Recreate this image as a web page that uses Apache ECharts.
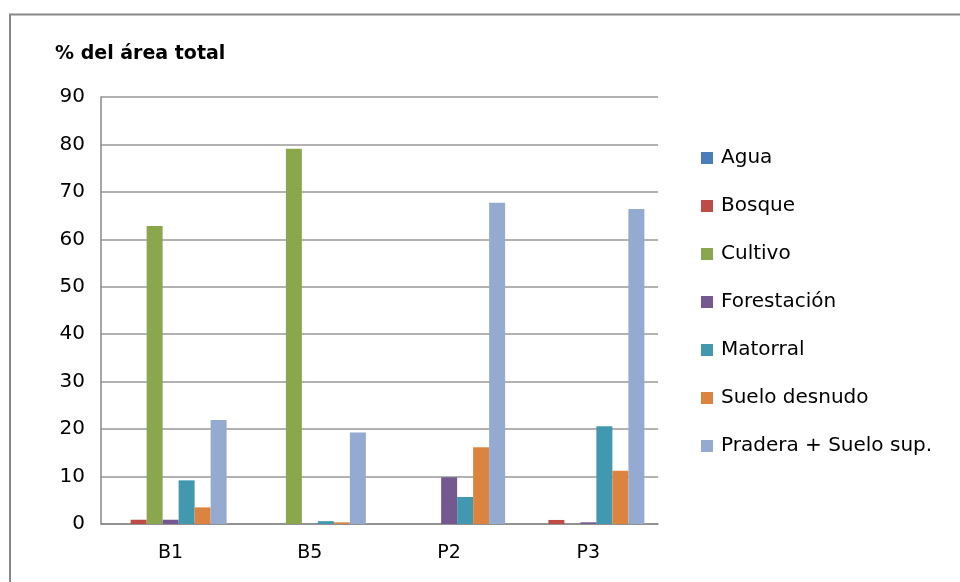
<!DOCTYPE html>
<html>
<head>
<meta charset="utf-8">
<script src="https://cdn.jsdelivr.net/npm/echarts@6/dist/echarts.min.js"></script>
<style>
  html, body { margin: 0; padding: 0; background: #fff; }
  #chart { width: 960px; height: 582px; }
</style>
</head>
<body>
<div id="chart"></div>
<script>
// Land-cover share per site (% of total area)
const sites = ['B1', 'B5', 'P2', 'P3'];
const agua        = [0,    0,    0,    0];
const bosque      = [0.9,  0,    0,    0.85];
const cultivo     = [62.8, 79.1, 0,    0];
const forestacion = [0.9,  0,    9.85, 0.35];
const matorral    = [9.2,  0.6,  5.7,  20.6];
const sueloDesnudo= [3.5,  0.35, 16.2, 11.2];
const pradera     = [21.9, 19.3, 67.7, 66.4];

const seriesNames = ['Agua', 'Bosque', 'Cultivo', 'Forestación', 'Matorral', 'Suelo desnudo', 'Pradera + Suelo sup.'];
const seriesData  = [agua, bosque, cultivo, forestacion, matorral, sueloDesnudo, pradera];
const colors = ['#4A7EBB', '#BE4B48', '#8BA74E', '#74588F', '#4298AF', '#DC843F', '#95AAD1'];

const font = '"DejaVu Sans", sans-serif';

const chart = echarts.init(document.getElementById('chart'));
chart.setOption({
  animation: false,
  color: colors,
  graphic: [
    // chart-area frame (continues past the right and bottom edges)
    { type: 'rect', shape: { x: 10, y: 14.5, width: 1000, height: 650 },
      style: { fill: 'none', stroke: '#888', lineWidth: 2 }, silent: true },
    { type: 'text', left: 55, top: 45,
      style: { text: '% del área total', font: 'bold 19px ' + font, fill: '#000' } }
  ],
  grid: { left: 101, right: 302, top: 97, bottom: 58 },
  legend: {
    orient: 'vertical',
    left: 696, top: 141,
    itemWidth: 12, itemHeight: 12, itemGap: 24,
    icon: 'rect',
    textStyle: { fontFamily: font, fontSize: 20, lineHeight: 24, color: '#000', padding: [0, 0, 0, 3] },
    data: seriesNames
  },
  xAxis: {
    type: 'category',
    data: sites,
    axisLine: { lineStyle: { color: '#888', width: 1.5 } },
    axisTick: { show: false },
    axisLabel: { fontFamily: font, fontSize: 19, color: '#000', margin: 20 }
  },
  yAxis: {
    type: 'value',
    min: 0, max: 90, interval: 10,
    axisLine: { show: true, lineStyle: { color: '#888', width: 1.5 } },
    axisTick: { show: false },
    axisLabel: { fontFamily: font, fontSize: 20, color: '#000', margin: 16 },
    splitLine: { lineStyle: { color: '#999', width: 1.5 } }
  },
  series: seriesNames.map((name, i) => ({
    name,
    type: 'bar',
    data: seriesData[i],
    barWidth: 16,
    barGap: '0%'
  }))
});
</script>
</body>
</html>
